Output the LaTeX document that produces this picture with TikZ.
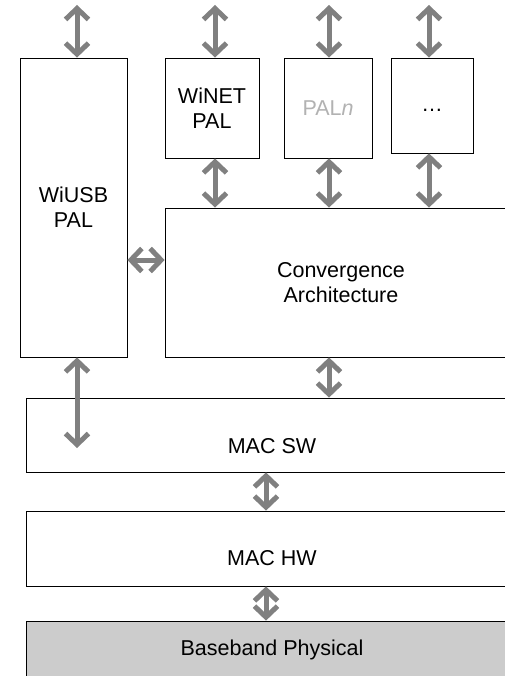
\documentclass[tikz,border=0pt]{standalone}
\usepackage{fontspec}
\setmainfont{Liberation Sans}
\usepackage{xcolor}
\usepackage{tikz}
\usetikzlibrary{arrows.meta,positioning,calc}

\begin{document}
\begin{tikzpicture}[
  x=1pt, y=-1pt,
  font=\fontsize{21.5}{25}\selectfont,
  blk/.style={rectangle, draw=black, line width=0.8pt, fill=white, inner sep=0pt, align=center},
  link/.style={{Straight Barb[length=11pt,width=23pt]}-{Straight Barb[length=11pt,width=23pt]}, line width=5pt, draw=black!50}
]
\useasboundingbox[fill=white] (0,0) rectangle (504,676);

% PAL column
\node[blk, minimum width=107pt, minimum height=299pt] (wiusb) at (73.5,207.5) {WiUSB\\PAL};
\node[blk, minimum width=94pt, minimum height=100pt] (winet) at (212,108) {WiNET\\PAL};
\node[blk, minimum width=88pt, minimum height=100pt, text=black!30] (paln) at (328,108) {PAL\textit{n}};
\node[blk, minimum width=82pt, minimum height=95pt, label={[yshift=-5pt]center:\ldots}] (more) at (432,105.5) {};

% layers
\node[blk, minimum width=352pt, minimum height=149pt] (conv) at (341,282.5) {Convergence\\Architecture};
\node[blk, minimum width=492pt, minimum height=74pt, label={[yshift=-11pt]center:MAC SW}] (macsw) at (272,435) {};
\node[blk, minimum width=492pt, minimum height=75pt, label={[yshift=-10pt]center:MAC HW}] (machw) at (272,548.5) {};
\node[blk, minimum width=492pt, minimum height=57pt, fill=black!20] (bb) at (272,649.5) {Baseband Physical};

% free ends on top
\coordinate (u1) at (77,5);
\coordinate (u2) at (215,5);
\coordinate (u3) at (329,5);
\coordinate (u4) at (429,5);

\draw[link] (u1) -- (u1 |- wiusb.north);
\draw[link] (u2) -- (u2 |- winet.north);
\draw[link] (u3) -- (u3 |- paln.north);
\draw[link] (u4) -- (u4 |- more.north);

% PALs to convergence
\draw[link] (winet.south -| u2) -- (conv.north -| u2);
\draw[link] (paln.south -| u3) -- (conv.north -| u3);
\draw[link] (more.south -| u4) -- (conv.north -| u4);
\draw[link] (wiusb.east |- 0,260) -- (conv.west |- 0,260);

% down the stack
\coordinate (d1) at (77,448);
\draw[link] (wiusb.south -| d1) -- (d1);
\draw[link] (conv.south -| u3) -- (macsw.north -| u3);
\draw[link] ($(macsw.south)+(-6,0)$) -- ($(machw.north)+(-6,0)$);
\draw[link] ($(machw.south)+(-6,0)$) -- ($(bb.north)+(-6,0)$);

\end{tikzpicture}
\end{document}
